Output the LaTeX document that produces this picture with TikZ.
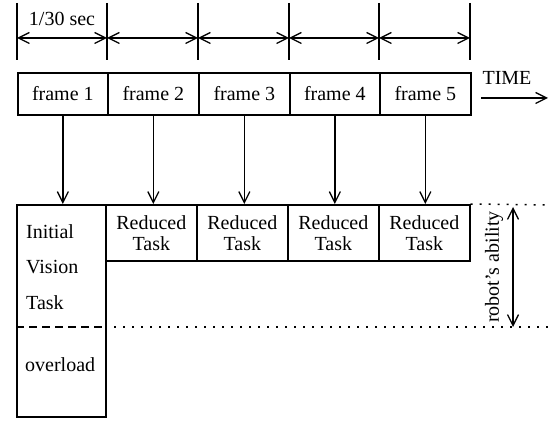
\documentclass[tikz,border=0pt]{standalone}
\usepackage{fontspec}
\setmainfont{Liberation Serif}
\usetikzlibrary{arrows.meta}
\begin{document}
\begin{tikzpicture}[x=1pt,y=-1pt,
  every node/.style={font=\fontsize{20}{22}\selectfont, inner sep=0pt},
  box/.style={draw, line width=1.7pt, rectangle},
  tick/.style={line width=1.5pt},
  arr/.style={line width=1.3pt, -{Straight Barb[length=11pt,width=11pt,line width=1.3pt]}},
  darr/.style={line width=1.2pt, {Straight Barb[length=11pt,width=11pt,line width=1.3pt]}-{Straight Barb[length=11pt,width=11pt,line width=1.3pt]}},
  dotl/.style={line width=1.5pt, dash pattern=on 2pt off 7pt}
]
\useasboundingbox (0,0) rectangle (549,427);
% ticks
\foreach \i/\x in {0/17,1/107,2/198,3/289,4/379,5/470}{
  \coordinate (tt\i) at (\x,3);
  \coordinate (tb\i) at (\x,60);
  \coordinate (ta\i) at (\x,38);
  \draw[tick] (tt\i) -- (tb\i);
}
\foreach \i/\j in {0/1,1/2,2/3,3/4,4/5}{
  \draw[darr] (ta\i) -- (ta\j);
}
\node (sec) at (62,19) {1/30 sec};
% frames
\foreach \i/\a/\b in {1/17/107,2/107/198,3/198/289,4/289/379,5/379/470}{
  \node[box, minimum width={\b-\a}, minimum height=42pt, anchor=north west] (f\i) at (\a,72) {};
  \node (ft\i) at (f\i.center) {frame \i};
}
\node (time) at (507,78) {TIME};
\coordinate (ts) at (481,98);
\coordinate (te) at (548,98);
\draw[arr] (ts) -- (te);
% lower boxes
\node[box, minimum width=89pt, minimum height=212pt, anchor=north west] (init) at (16,204) {};
\node[align=left, anchor=north west, font=\fontsize{20}{35.5}\selectfont] (inittxt) at (26,224) {Initial\\Vision\\Task};
\node[anchor=west] (over) at (25,365) {overload};
\foreach \i/\a/\b in {2/105/196,3/196/287,4/287/378,5/378/469}{
  \node[box, minimum width={\b-\a}, minimum height=56pt, anchor=north west] (r\i) at (\a,204) {};
  \node[align=center, font=\fontsize{20}{21}\selectfont] (rt\i) at (r\i.center) {Reduced\\Task};
}
% arrows from frames
\draw[arr] (f1.south) -- (f1.south |- init.north);
\foreach \i in {2,3,4,5}{
  \draw[arr] (f\i.south) -- (f\i.south |- r\i.north);
}
% dashed / dotted lines
\coordinate (dl) at (16,327);
\coordinate (dm) at (105,327);
\coordinate (de) at (549,327);
\draw[line width=1.5pt, dash pattern=on 8pt off 5pt] (dl) -- (dm);
\draw[dotl] (dm) -- (de);
\coordinate (ue) at (549,205);
\draw[dotl] (r5.north east) -- (ue);
% robot's ability
\coordinate (ra) at (513,207);
\coordinate (rb) at (513,327);
\draw[darr] (ra) -- (rb);
\node[rotate=90] (rob) at (494,267) {robot's ability};
\end{tikzpicture}
\end{document}
